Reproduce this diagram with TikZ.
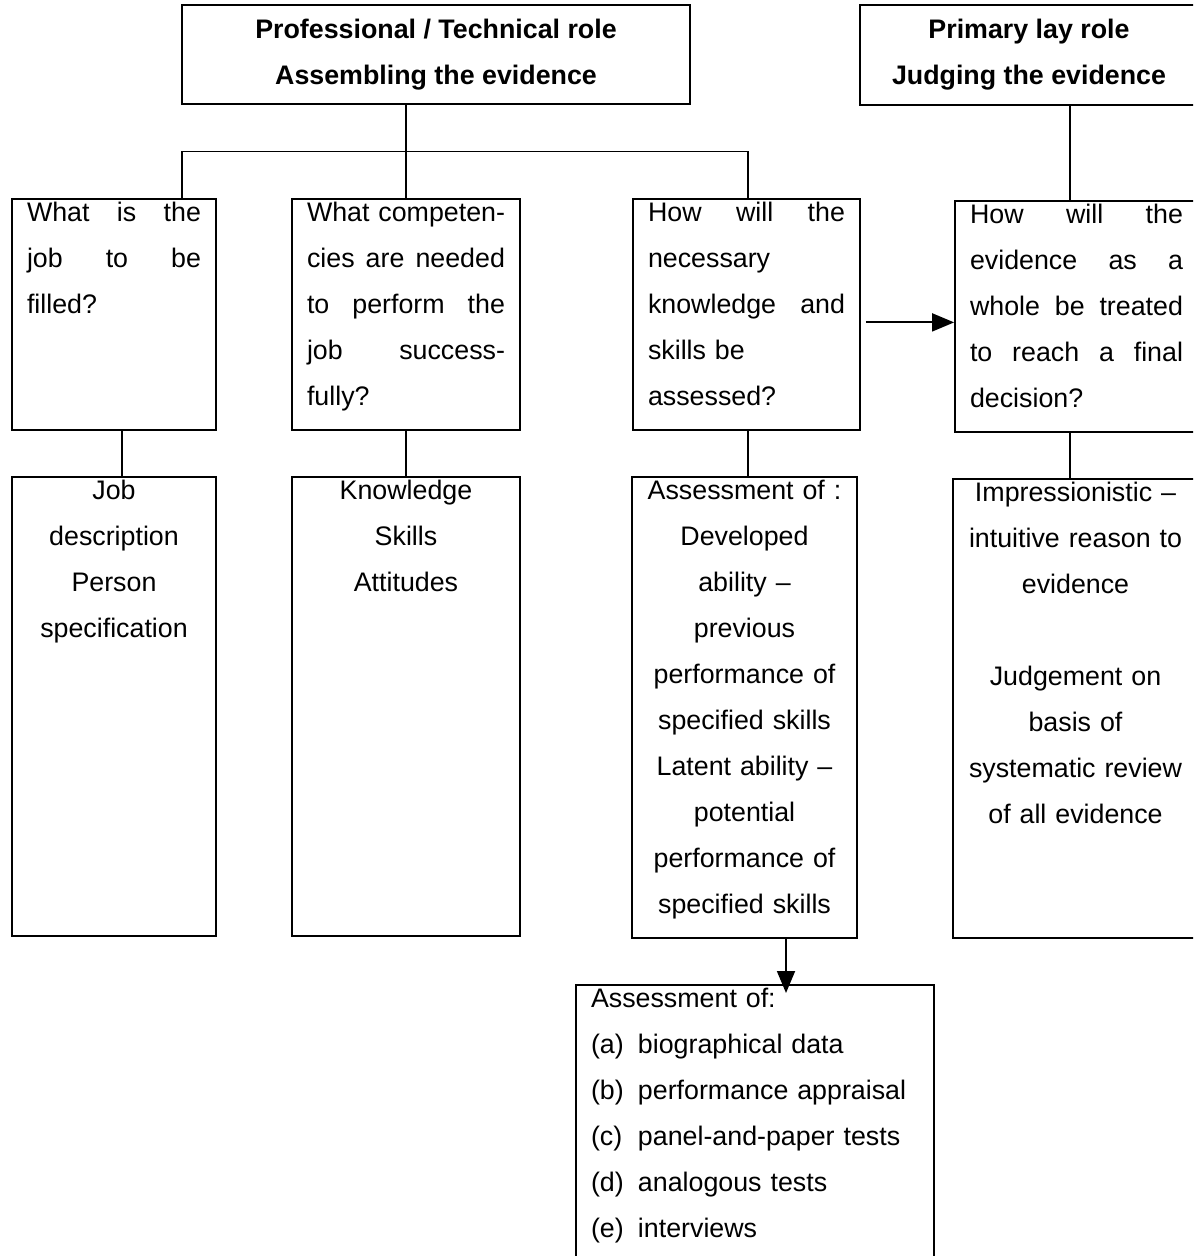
\documentclass[tikz,border=0pt]{standalone}
\usepackage{fontspec}
\setmainfont{Liberation Sans}
\usepackage{tikz}
\usetikzlibrary{arrows.meta,positioning,calc}
\newcommand{\diafont}{\fontsize{13.4pt}{23pt}\selectfont}
\newcommand{\jline}[1]{\makebox[\linewidth][s]{\spaceskip=0.28em plus 1fil\relax#1}}
\newcommand{\litem}[2]{\makebox[23.5pt][l]{#1}#2}
\tikzset{
  role/.style={draw,line width=0.9pt,align=center,inner sep=0pt,font=\diafont\bfseries},
  ask/.style={draw,line width=0.9pt,anchor=north,align=left,inner xsep=7.5pt,inner ysep=1pt,text height=10.5pt,text depth=103pt,font=\diafont},
  answer/.style={draw,line width=0.9pt,anchor=north,align=center,inner xsep=7.5pt,inner ysep=1pt,text height=10.5pt,text depth=217pt,font=\diafont},
  link/.style={line width=0.9pt},
  push/.style={link,-{Triangle[length=11pt,width=9pt]}},
}
\begin{document}
\begin{tikzpicture}[x=0.5pt,y=-0.5pt]
\useasboundingbox (0,0) rectangle (1193,1256);
\clip (0,0) rectangle (1193,1256);
% roles
\node[role,minimum width=254pt,minimum height=49.5pt] (tech) at (436,54.5) {Professional / Technical role\\Assembling the evidence};
\node[role,minimum width=169pt,minimum height=50pt] (lay) at (1029,55) {Primary lay role\\Judging the evidence};
% questions
\node[ask,text width=87pt] (qA) at (114,198) {\jline{What is the}\\\jline{job to be}\\filled?};
\node[ask,text width=99pt] (qB) at (406,198) {\jline{What competen-}\\\jline{cies are needed}\\\jline{to perform the}\\\jline{job success-}\\fully?};
\node[ask,text width=98.5pt] (qC) at (746.5,198) {\jline{How will the}\\necessary\\\jline{knowledge and}\\skills be\\assessed?};
\node[ask,text width=106.5pt] (qD) at (1076.5,200) {\jline{How will the}\\\jline{evidence as a}\\\jline{whole be treated}\\\jline{to reach a final}\\decision?};
% answers
\node[answer,text width=87pt] (dA) at (114,476) {Job\\description\\Person\\specification};
\node[answer,text width=99pt] (dB) at (406,476) {Knowledge\\Skills\\Attitudes};
\node[answer,text width=97.5pt,text depth=218pt] (dC) at (744.5,476) {Assessment of :\\Developed\\ability --\\previous\\performance of\\specified skills\\Latent ability --\\potential\\performance of\\specified skills};
\node[answer,text width=107.5pt] (dD) at (1075.5,478) {Impressionistic --\\intuitive reason to\\evidence\\[23pt]Judgement on\\basis of\\systematic review\\of all evidence};
\node[answer,align=left,text width=164pt,text depth=130pt] (dE) at (755,984) {Assessment of:\\\litem{(a)}{biographical data}\\\litem{(b)}{performance appraisal}\\\litem{(c)}{panel-and-paper tests}\\\litem{(d)}{analogous tests}\\\litem{(e)}{interviews}};
% links
\coordinate (split) at ($(tech.south)!0.5!(qB.north)$);
\draw[link] (qB.north |- tech.south) -- (qB.north);
\draw[link] ([xshift=34pt]qA.north) -- ([xshift=34pt]qA.north |- split) -- ([xshift=0.75pt]qC.north |- split) -- ([xshift=0.75pt]qC.north);
\draw[link] ([xshift=20.5pt]lay.south) -- ([xshift=20.5pt]lay.south |- qD.north);
\draw[link] ([xshift=4pt]qA.south) -- ([xshift=4pt]dA.north);
\draw[link] (qB.south) -- (dB.north);
\draw[link] ([xshift=0.75pt]qC.south) -- ([xshift=0.75pt]qC.south |- dC.north);
\draw[link] ([xshift=-3.25pt]qD.south) -- ([xshift=-3.25pt]qD.south |- dD.north);
\draw[push,shorten <=2.5pt] ([yshift=-4pt]qC.east) -- ([yshift=-4pt]qC.east -| qD.west);
\draw[push,shorten >=-4.5pt] ([xshift=20.75pt]dC.south) -- ([xshift=20.75pt]dC.south |- dE.north);
\end{tikzpicture}
\end{document}
